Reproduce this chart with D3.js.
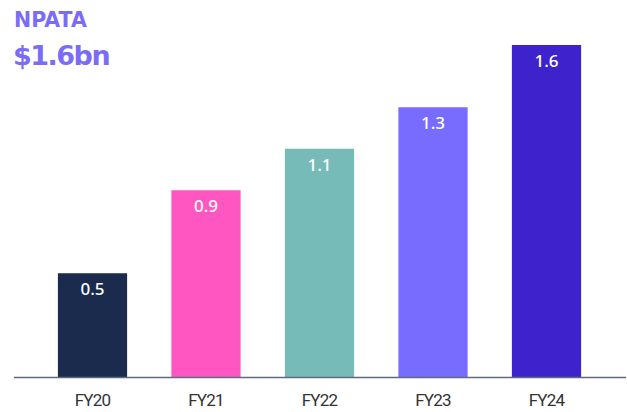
<!DOCTYPE html>
<html>
<head>
<meta charset="utf-8">
<script src="https://cdn.jsdelivr.net/npm/d3@7"></script>
<style>
  body { margin: 0; background: #fff; }
  svg { display: block; }
</style>
</head>
<body>
<svg id="chart" width="627" height="412"></svg>
<script>
// data
var years = ["FY20", "FY21", "FY22", "FY23", "FY24"];
var npata = [0.5, 0.9, 1.1, 1.3, 1.6];
var barColors = ["#1b2b4e", "#ff56c1", "#77bbb8", "#786bff", "#3e22cc"];

var svg = d3.select("#chart");
var baseY = 377;

var x = d3.scaleBand()
  .domain(years)
  .range([35.75, 603.25])
  .paddingInner(0.39)
  .paddingOuter(0.195);

var y = d3.scaleLinear()
  .domain([0, 1.6])
  .range([baseY, 45]);

// title
svg.append("text")
  .attr("x", 14)
  .attr("y", 27)
  .attr("fill", "#7b6cf8")
  .style("font-family", "'DejaVu Sans', sans-serif")
  .style("font-weight", "bold")
  .style("font-size", "20.5px")
  .text("NPATA");

svg.append("text")
  .attr("x", 13)
  .attr("y", 65)
  .attr("fill", "#7b6cf8")
  .style("font-family", "'DejaVu Sans', sans-serif")
  .style("font-weight", "bold")
  .style("font-size", "27px")
  .style("letter-spacing", "-1.5px")
  .text("$1.6bn");

var bars = svg.append("g").selectAll("g")
  .data(years)
  .enter()
  .append("g");

bars.append("rect")
  .attr("x", function(d) { return x(d); })
  .attr("y", function(d, i) { return y(npata[i]); })
  .attr("width", x.bandwidth())
  .attr("height", function(d, i) { return baseY - y(npata[i]); })
  .attr("fill", function(d, i) { return barColors[i]; });

bars.append("text")
  .attr("x", function(d) { return x(d) + x.bandwidth() / 2; })
  .attr("y", function(d, i) { return y(npata[i]) + 22; })
  .attr("text-anchor", "middle")
  .attr("fill", "#fff")
  .style("font-family", "'Noto Sans', sans-serif")
  .style("font-weight", "500")
  .style("font-size", "17px")
  .text(function(d, i) { return npata[i]; });

// x axis
var xAxis = svg.append("g")
  .attr("transform", "translate(0," + baseY + ")")
  .call(d3.axisBottom(x).tickSize(0).tickPadding(17));

xAxis.select(".domain")
  .attr("d", "M14,0.5H626")
  .attr("stroke", "#5b6b82")
  .attr("stroke-width", 1.5);

xAxis.selectAll("text")
  .attr("fill", "#333")
  .style("font-family", "Roboto, sans-serif")
  .style("font-size", "17px")
  .style("letter-spacing", "-0.8px");
</script>
</body>
</html>
